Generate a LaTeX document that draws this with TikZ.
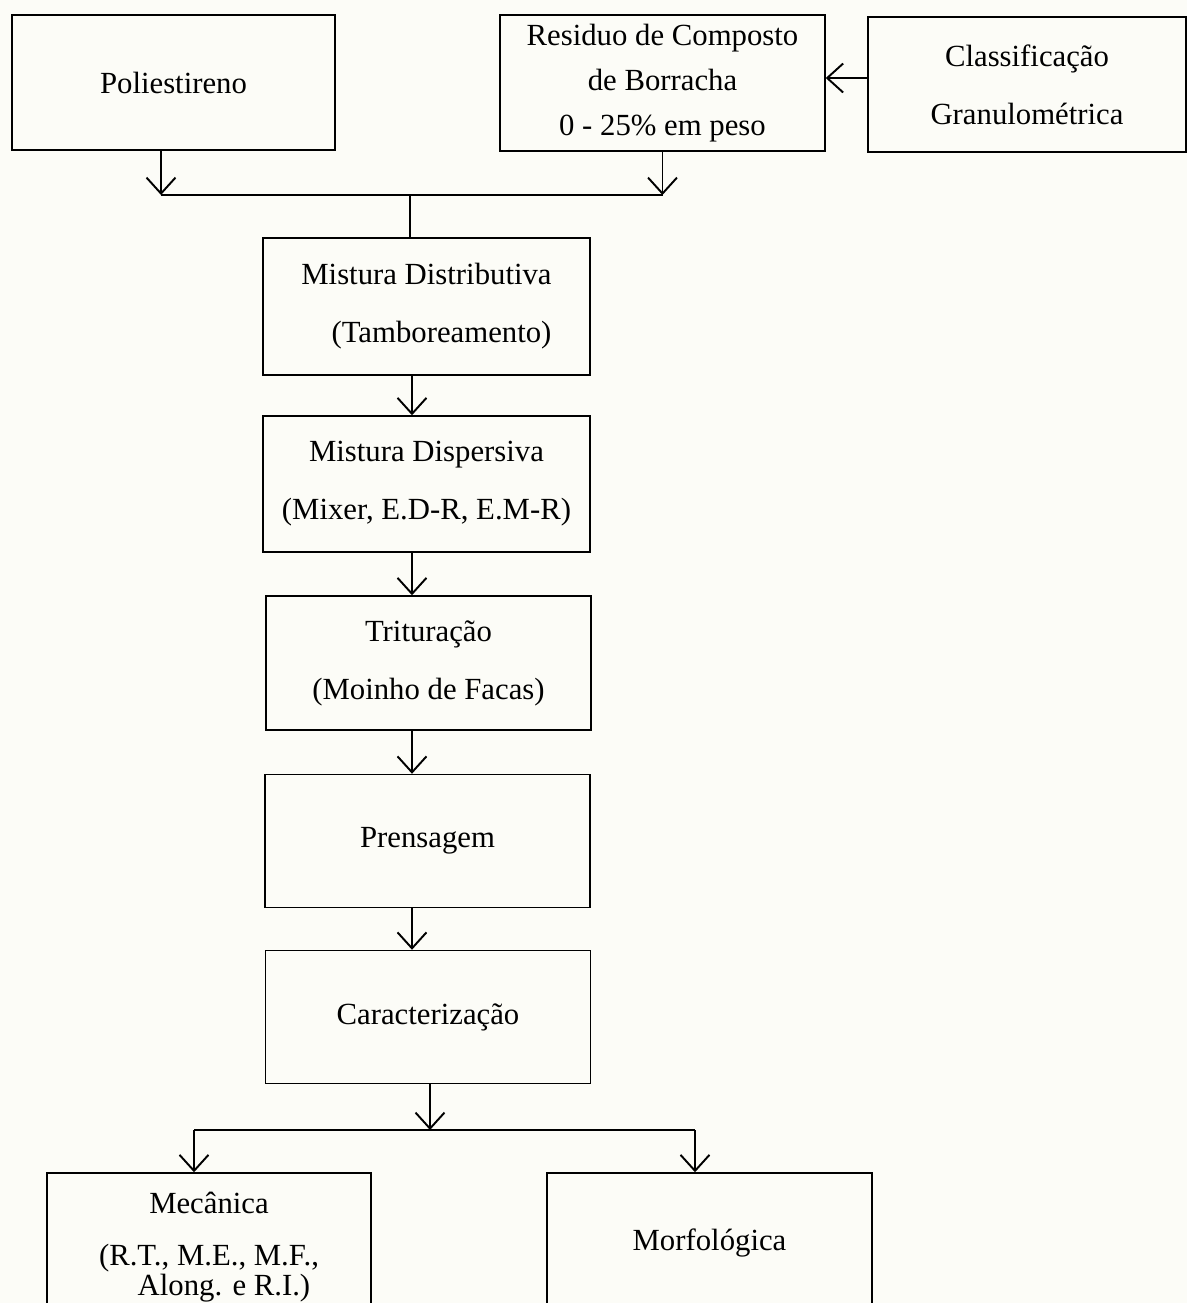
\documentclass[tikz,border=0pt]{standalone}
\usepackage{fontspec}
\setmainfont{Liberation Serif}
\usetikzlibrary{arrows.meta}
\definecolor{paper}{RGB}{252,252,247}

\begin{document}
\begin{tikzpicture}[x=0.02cm,y=-0.02cm,
  >={Straight Barb[length=3.2mm,width=5.8mm,line width=1.1pt]},
  box/.style={draw,line width=0.85pt,align=center,minimum width=6.5cm,
    minimum height=2.68cm,font=\fontsize{17.5}{33}\selectfont},
  link/.style={line width=0.7pt}]
  \fill[paper] (0,0) rectangle (1187,1303);
  \useasboundingbox (0,0) rectangle (1187,1303);
  \node[box,minimum width=6.46cm,minimum height=2.7cm] (poli) at (173.5,82.5) {Poliestireno};
  \node[box,minimum height=2.72cm,font=\fontsize{17.5}{25.6}\selectfont] (resid) at (662.5,83)
    {Residuo de Composto\\de Borracha\\0 - 25\% em peso};
  \node[box,minimum width=6.36cm,minimum height=2.7cm] (classif) at (1027,84.5)
    {Classificação\\Granulométrica};
  \node[box,minimum width=6.54cm,minimum height=2.74cm] (distrib) at (426.5,306.5)
    {Mistura Distributiva\\\hspace*{0.6cm}(Tamboreamento)};
  \node[box,minimum width=6.54cm,minimum height=2.72cm] (dispers) at (426.5,484)
    {Mistura Dispersiva\\(Mixer, E.D-R, E.M-R)};
  \node[box] (tritur) at (428.5,663) {Trituração\\(Moinho de Facas)};
  \node[box,minimum height=2.66cm] (prens) at (427.5,841) {Prensagem};
  \node[box,minimum height=2.66cm] (caract) at (428,1017) {Caracterização};
  \node[box,minimum width=6.48cm,minimum height=2.96cm,font=\fontsize{17.5}{13}\selectfont]
    (mecan) at (209,1247) {Mecânica\\[16.6pt](R.T., M.E., M.F.,\\\hspace*{0.6cm}Along. e R.I.)};
  \node[box,minimum height=2.8cm] (morf) at (709.5,1243) {Morfológica};

  \coordinate (jn) at (410,195);
  \coordinate (sp) at (412,0);
  \coordinate (jn2) at (430,1130);
  \coordinate (ml) at (194,1130);
  \coordinate (mr) at (695,1130);

  \draw[link,->] ([yshift=0.13cm]classif.west) -- ([yshift=0.13cm]classif.west -| resid.east);
  \draw[link,->] ([xshift=-0.25cm]poli.south) -- ([xshift=-0.25cm]poli.south |- jn);
  \draw[link,->] (resid.south) -- (resid.south |- jn);
  \draw[link] ([xshift=-0.25cm]poli.south |- jn) -- (resid.south |- jn);
  \draw[link] (jn) -- (jn |- distrib.north);
  \draw[link,->] (sp |- distrib.south) -- (sp |- dispers.north);
  \draw[link,->] (sp |- dispers.south) -- (sp |- tritur.north);
  \draw[link,->] (sp |- tritur.south) -- (sp |- prens.north);
  \draw[link,->] (sp |- prens.south) -- (sp |- caract.north);
  \draw[link,->] (jn2 |- caract.south) -- (jn2);
  \draw[link] (ml) -- (mr);
  \draw[link,->] (ml) -- (ml |- mecan.north);
  \draw[link,->] (mr) -- (mr |- morf.north);
\end{tikzpicture}
\end{document}
